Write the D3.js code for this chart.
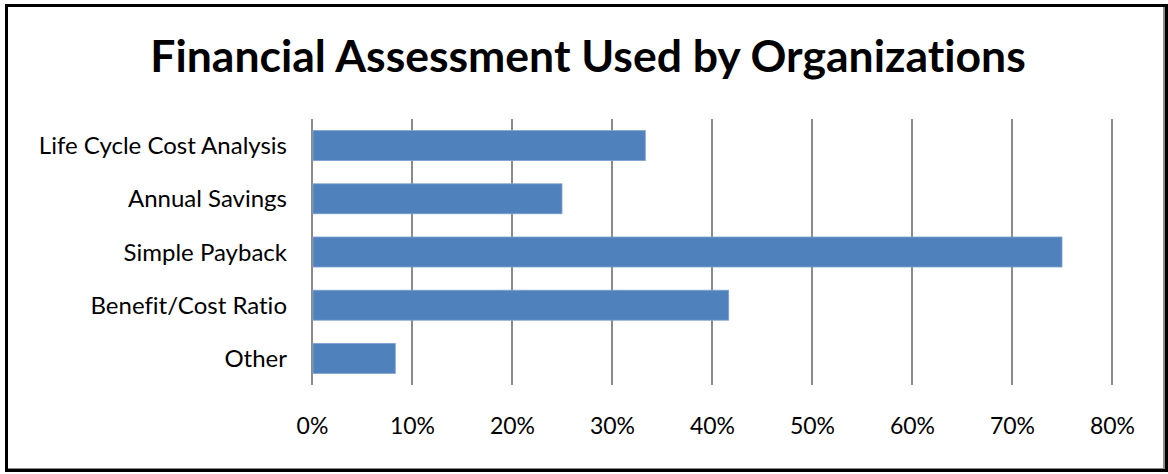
<!DOCTYPE html>
<html>
<head>
<meta charset="utf-8">
<script src="https://cdn.jsdelivr.net/npm/d3@7"></script>
<style>
  html, body { margin: 0; padding: 0; background: #fff; }
  svg { display: block; }
  text { font-family: Lato, "Open Sans", sans-serif; fill: #000; font-variant-ligatures: none; }
</style>
</head>
<body>
<svg id="chart" width="1168" height="474"></svg>
<script>
const title = "Financial Assessment Used by Organizations";
const categories = ["Life Cycle Cost Analysis", "Annual Savings", "Simple Payback", "Benefit/Cost Ratio", "Other"];
const values = [0.3333, 0.25, 0.75, 0.4167, 0.0833];
const tickValues = [0, 0.1, 0.2, 0.3, 0.4, 0.5, 0.6, 0.7, 0.8];

const svg = d3.select("#chart");
const W = 1168, H = 474;

// frame
svg.append("rect").attr("x", 0).attr("y", 0).attr("width", W).attr("height", H).attr("fill", "#fff");
svg.append("line").attr("x1", 1164).attr("x2", 1164).attr("y1", 7).attr("y2", 470).attr("stroke", "#8c8c8c").attr("stroke-width", 2);
svg.append("line").attr("x1", 8).attr("x2", 1165).attr("y1", 469).attr("y2", 469).attr("stroke", "#8c8c8c").attr("stroke-width", 2);
svg.append("rect").attr("x", 6.5).attr("y", 5.5).attr("width", 1160).attr("height", 465)
  .attr("fill", "none").attr("stroke", "#000").attr("stroke-width", 3);

const x = d3.scaleLinear().domain([0, 0.8]).range([312, 1112]);
const y = d3.scaleBand().domain(categories).range([119, 385]).paddingInner(0.436).paddingOuter(0.218);

// gridlines
svg.append("g").selectAll("line").data(tickValues).join("line")
  .attr("x1", d => x(d)).attr("x2", d => x(d))
  .attr("y1", 119).attr("y2", 385)
  .attr("stroke", "#8a8a8a").attr("stroke-width", 2);

// bars
svg.append("g").selectAll("rect").data(categories).join("rect")
  .attr("x", x(0) + 1)
  .attr("y", d => y(d))
  .attr("width", (d, i) => x(values[i]) - x(0) - 1)
  .attr("height", y.bandwidth())
  .attr("fill", "#4f81bd")
  .attr("stroke", "#7fa3d0").attr("stroke-width", 0.8);

// x axis labels
const xAxis = d3.axisBottom(x).tickValues(tickValues).tickFormat(d3.format(".0%")).tickSize(0).tickPadding(0);
const gx = svg.append("g").attr("transform", "translate(0,418)").call(xAxis);
gx.select(".domain").remove();
gx.selectAll("text").attr("font-family", "Lato, sans-serif").attr("font-size", 23).attr("fill", "#000").attr("dy", "0.71em");

// y axis labels
const yAxis = d3.axisLeft(y).tickSize(0).tickPadding(25);
const gy = svg.append("g").attr("transform", `translate(${x(0)},0)`).call(yAxis);
gy.select(".domain").remove();
gy.selectAll("text").attr("font-family", "Lato, sans-serif").attr("font-size", 24).attr("fill", "#000").attr("dy", "0.36em");

// title
svg.append("text").attr("x", 588).attr("y", 72).attr("text-anchor", "middle")
  .attr("font-size", 44.5).attr("font-weight", "bold").text(title);
</script>
</body>
</html>
